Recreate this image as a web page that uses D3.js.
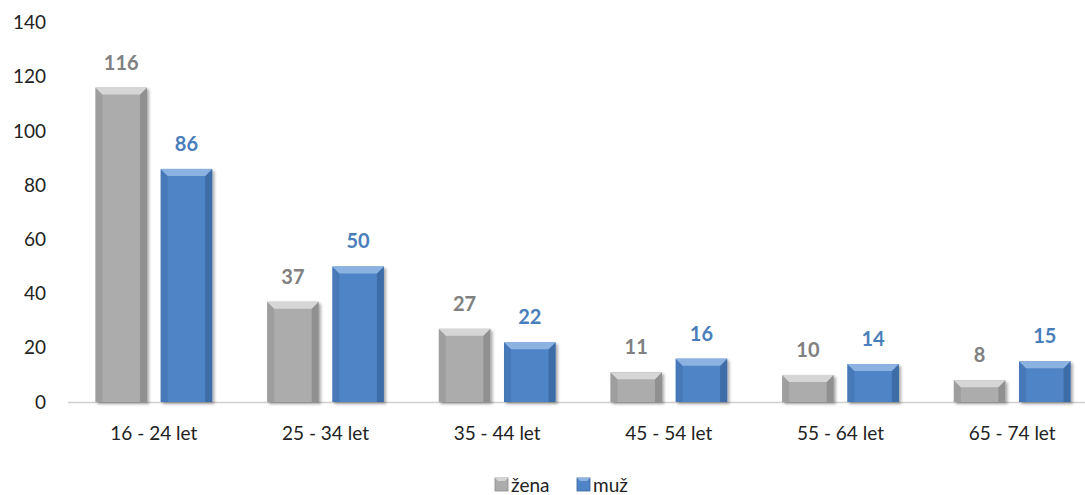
<!DOCTYPE html>
<html><head><meta charset="utf-8">
<script src="https://cdn.jsdelivr.net/npm/d3@7"></script>
<style>body{margin:0;background:#fff}svg{display:block;font-family:Lato,"Open Sans",sans-serif}</style>
</head><body>
<svg id="c" width="1085" height="495"></svg>
<script>
const categories = ["16 - 24 let","25 - 34 let","35 - 44 let","45 - 54 let","55 - 64 let","65 - 74 let"];
const seriesNames = ["žena","muž"];
const zena = [116,37,27,11,10,8];
const muz = [86,50,22,16,14,15];
const yTicks = [0,20,40,60,80,100,120,140];

const colors = {"žena":{base:"#acacac",light:"#d6d6d6",dark:"#8a8a8a",label:"#808080"},
                "muž":{base:"#4f84c6",light:"#8cb2e2",dark:"#3a679f",label:"#4a7ebb"}};

const svg = d3.select("#c");
const y = d3.scaleLinear().domain([0,140]).range([402,22.5]);
const x0 = d3.scaleBand().domain(categories).range([68,1098]).paddingInner(0).paddingOuter(0);
const x1 = d3.scaleBand().domain(seriesNames).range([x0.bandwidth()*0.16, x0.bandwidth()*0.84]).paddingInner(0.21);

const defs = svg.append("defs");
const f = defs.append("filter").attr("id","sh").attr("x","-20%").attr("y","-20%").attr("width","150%").attr("height","150%");
f.append("feDropShadow").attr("dx",2).attr("dy",2).attr("stdDeviation",1.5).attr("flood-color","#000").attr("flood-opacity",0.35);

svg.append("g").selectAll("text").data(yTicks).join("text")
  .attr("x",46).attr("y",d=>y(d)).attr("dy","0.35em").attr("text-anchor","end")
  .attr("font-size",19).attr("fill","#222").text(d=>d);

svg.append("line").attr("x1",68).attr("x2",1085).attr("y1",402.5).attr("y2",402.5)
  .attr("stroke","#d0d0d0").attr("stroke-width",1.5);

const data = categories.map((c,i)=>({cat:c, vals:[{s:"žena",v:zena[i]},{s:"muž",v:muz[i]}]}));
const g = svg.append("g").selectAll("g").data(data).join("g").attr("transform",d=>`translate(${x0(d.cat)},0)`);

const bars = g.selectAll("g.bar").data(d=>d.vals).join("g").attr("class","bar");
bars.each(function(d){
  const sel = d3.select(this);
  const bx = x1(d.s), w = x1.bandwidth(), top = y(d.v), bot = y(0), h = bot-top;
  const c = colors[d.s];
  const b = Math.min(7, h/2);
  const gg = sel.append("g").attr("filter","url(#sh)");
  gg.append("rect").attr("x",bx).attr("y",top).attr("width",w).attr("height",h).attr("fill",c.base);
  gg.append("polygon").attr("points",`${bx},${top} ${bx+b},${top+b} ${bx+b},${bot} ${bx},${bot}`).attr("fill",c.dark).attr("opacity",0.4);
  gg.append("polygon").attr("points",`${bx+w},${top} ${bx+w-b},${top+b} ${bx+w-b},${bot} ${bx+w},${bot}`).attr("fill",c.dark).attr("opacity",0.8);
  gg.append("polygon").attr("points",`${bx},${top} ${bx+w},${top} ${bx+w-b},${top+b} ${bx+b},${top+b}`).attr("fill",c.light);
  sel.append("text").attr("x",bx+w/2).attr("y",top-18).attr("text-anchor","middle")
    .attr("font-size",20).attr("font-weight","bold").attr("fill",c.label).text(d.v);
});

svg.append("g").selectAll("text").data(categories).join("text")
  .attr("x",d=>x0(d)+x0.bandwidth()/2).attr("y",440).attr("text-anchor","middle")
  .attr("font-size",19).attr("fill","#222").text(d=>d);

const leg = svg.append("g");
const legItems = [{s:"žena",x:495},{s:"muž",x:577}];
legItems.forEach(it=>{
  const c = colors[it.s];
  leg.append("rect").attr("x",it.x).attr("y",478).attr("width",13).attr("height",13).attr("fill",c.base).attr("stroke",c.dark).attr("stroke-width",0.8);
  leg.append("polygon").attr("points",`${it.x},478 ${it.x+13},478 ${it.x+10},481 ${it.x+3},481`).attr("fill",c.light);
  leg.append("text").attr("x",it.x+16).attr("y",485).attr("dy","0.35em").attr("font-size",19).attr("fill","#222").text(it.s);
});
</script>
</body></html>
